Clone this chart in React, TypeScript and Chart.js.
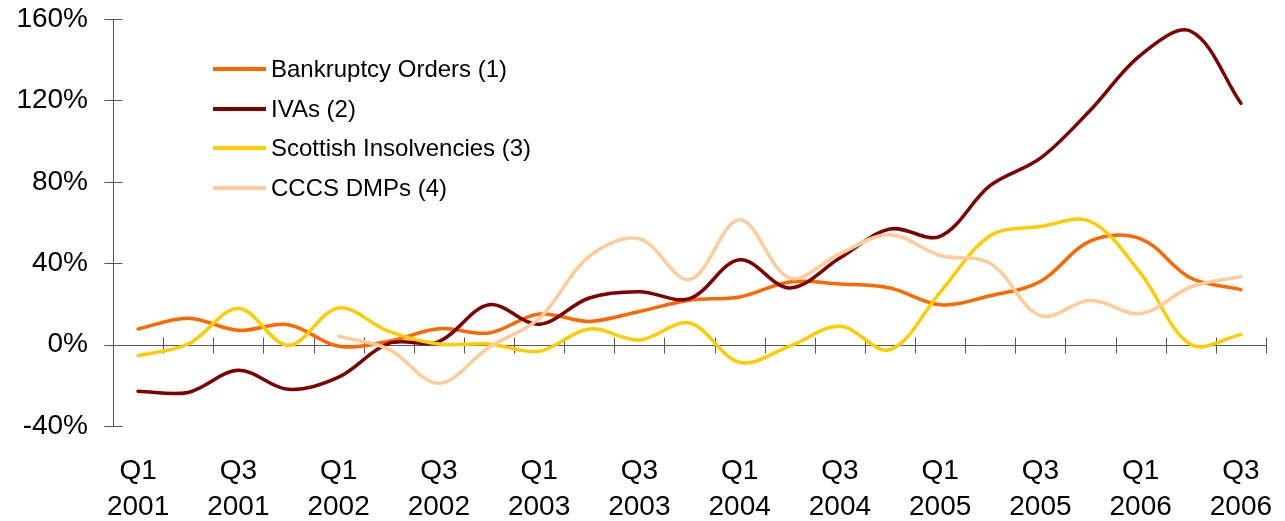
import React, { useEffect, useRef } from 'react';
import { Chart, registerables } from 'chart.js';

Chart.register(...registerables);

const categories = [
  'Q1 2001', 'Q2 2001', 'Q3 2001', 'Q4 2001',
  'Q1 2002', 'Q2 2002', 'Q3 2002', 'Q4 2002',
  'Q1 2003', 'Q2 2003', 'Q3 2003', 'Q4 2003',
  'Q1 2004', 'Q2 2004', 'Q3 2004', 'Q4 2004',
  'Q1 2005', 'Q2 2005', 'Q3 2005', 'Q4 2005',
  'Q1 2006', 'Q2 2006', 'Q3 2006',
];

const bankruptcyOrders = [7.7, 13, 7, 9.8, -0.8, 1.6, 7.8, 5.7, 15, 11.4, 16.3, 21.8, 23.4, 30.8, 29.8, 27.8, 19.6, 24, 31, 51, 52, 32.7, 27];
const ivas = [-22.9, -23.5, -12.6, -22, -16, 0.6, 1.5, 19.6, 10, 22.9, 26, 22.6, 41.7, 27.8, 42.5, 56.8, 53.2, 78.2, 91.6, 115.3, 142.3, 154, 118.6];
const scottishInsolvencies = [-5.4, 0.3, 17.7, -0.3, 18, 6.5, 0.3, 0.3, -3.3, 7.7, 2.3, 10.6, -8.7, -0.8, 9, -2.5, 25.7, 53.5, 58, 60.5, 35, 0, 4.9];
const cccsDmps = [null, null, null, null, 4.1, -2.2, -19, -1.3, 12.8, 43.3, 52, 31.9, 61.4, 32.7, 44.7, 54, 43.8, 40, 14.2, 21.8, 15.2, 28.3, 33.5];

const seriesLabels = ['Bankruptcy Orders (1)', 'IVAs (2)', 'Scottish Insolvencies (3)', 'CCCS DMPs (4)'];
const seriesColors = ['#FF6600', '#800000', '#FFCC00', '#FFCC99'];

const yTicks = { min: -40, max: 160, step: 40 };

const FONT = '"Liberation Sans", Arial, sans-serif';

const axesPlugin = {
  id: 'excelAxes',
  beforeDatasetsDraw(chart: any) {
    const { ctx, chartArea, scales } = chart;
    const x = scales.x;
    const y = scales.y;
    const y0 = Math.round(y.getPixelForValue(0)) + 0.5;
    const left = Math.round(chartArea.left) + 0.5;
    ctx.save();
    ctx.strokeStyle = '#555555';
    ctx.lineWidth = 1;
    ctx.beginPath();
    ctx.moveTo(left, Math.round(chartArea.top));
    ctx.lineTo(left, Math.round(chartArea.bottom) + 1);
    y.ticks.forEach((t: any) => {
      const py = Math.round(y.getPixelForValue(t.value)) + 0.5;
      ctx.moveTo(left - 9, py);
      ctx.lineTo(left + 9, py);
    });
    ctx.moveTo(left, y0);
    ctx.lineTo(Math.round(chartArea.right) + 1, y0);
    const n = x.ticks.length;
    for (let i = 1; i <= n; i++) {
      const px = i === n
        ? chartArea.right
        : (x.getPixelForValue(i - 1) + x.getPixelForValue(i)) / 2;
      const rx = Math.round(px) + 0.5;
      ctx.moveTo(rx, y0 - 8);
      ctx.lineTo(rx, y0 + 8);
    }
    ctx.stroke();
    ctx.restore();
  },
};

const legendPlugin = {
  id: 'insetLegend',
  afterDraw(chart: any) {
    const { ctx, chartArea } = chart;
    ctx.save();
    ctx.font = `24px ${FONT}`;
    ctx.textBaseline = 'middle';
    ctx.textAlign = 'left';
    chart.data.datasets.forEach((ds: any, i: number) => {
      const yy = Math.round(chartArea.top + 50 + i * 39.7);
      ctx.strokeStyle = ds.borderColor;
      ctx.lineWidth = 4;
      ctx.lineCap = 'butt';
      ctx.beginPath();
      ctx.moveTo(chartArea.left + 100, yy);
      ctx.lineTo(chartArea.left + 153, yy);
      ctx.stroke();
      ctx.fillStyle = '#000000';
      ctx.fillText(ds.label, chartArea.left + 158, yy + 1);
    });
    ctx.restore();
  },
};

const zeroPadding = (scale: any) => {
  scale.paddingTop = 0;
  scale.paddingBottom = 0;
  scale.paddingLeft = 0;
  scale.paddingRight = 0;
};

export default function App() {
  const canvasRef = useRef<HTMLCanvasElement | null>(null);

  useEffect(() => {
    if (!canvasRef.current) return;
    const seriesData = [bankruptcyOrders, ivas, scottishInsolvencies, cccsDmps];
    const chart = new Chart(canvasRef.current, {
      type: 'line',
      data: {
        labels: categories,
        datasets: seriesData.map((d, i) => ({
          label: seriesLabels[i],
          data: d,
          borderColor: seriesColors[i],
          backgroundColor: seriesColors[i],
          borderWidth: 3.5,
          pointRadius: 0,
          pointHoverRadius: 0,
          tension: 0.35,
          fill: false,
          borderCapStyle: 'round',
          borderJoinStyle: 'round',
          order: 3 - i,
        })),
      },
      options: {
        animation: false,
        responsive: true,
        maintainAspectRatio: false,
        events: [],
        layout: { padding: { top: 19, right: 19, left: 0, bottom: 0 } },
        plugins: {
          legend: { display: false },
          tooltip: { enabled: false },
          title: { display: false },
        },
        scales: {
          x: {
            type: 'category',
            offset: true,
            grid: { display: false, drawTicks: false },
            border: { display: false },
            ticks: {
              autoSkip: false,
              maxRotation: 0,
              minRotation: 0,
              padding: 27,
              color: '#000000',
              font: { family: FONT, size: 28, lineHeight: 1.3 },
              callback: (_v: any, index: number) => {
                if (index % 2 !== 0) return '';
                const parts = categories[index].split(' ');
                return [parts[0], parts[1]];
              },
            },
            afterFit: (scale: any) => { scale.height = 95; zeroPadding(scale); },
          },
          y: {
            min: yTicks.min,
            max: yTicks.max,
            grid: { display: false, drawTicks: false },
            border: { display: false },
            ticks: {
              stepSize: yTicks.step,
              padding: 25,
              color: '#000000',
              font: { family: FONT, size: 28 },
              callback: (v: any) => `${v}%`,
            },
            afterFit: (scale: any) => { scale.width = 113; zeroPadding(scale); },
          },
        },
      },
      plugins: [axesPlugin, legendPlugin],
    } as any);
    return () => chart.destroy();
  }, []);

  return (
    <div style={{ position: 'fixed', left: 0, top: 0, width: 1285, height: 521, background: '#ffffff' }}>
      <canvas ref={canvasRef} />
    </div>
  );
}
